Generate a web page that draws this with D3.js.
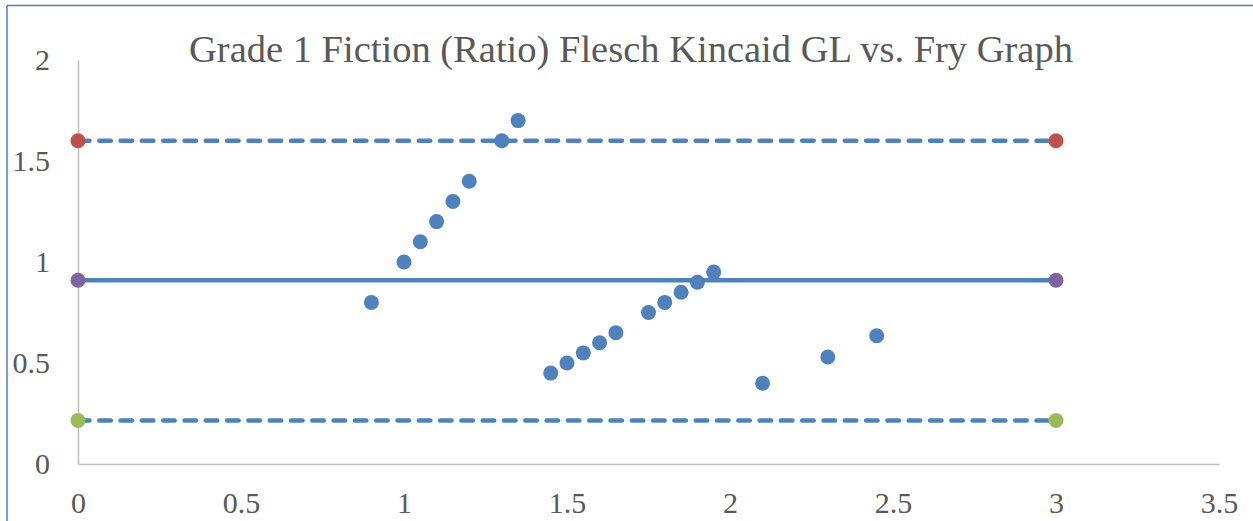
<!DOCTYPE html>
<html>
<head>
<meta charset="utf-8">
<script src="https://cdnjs.cloudflare.com/ajax/libs/d3/7.8.5/d3.min.js"></script>
<style>
  body { margin: 0; background: #fff; }
  .axis path { stroke: #bfbfbf; stroke-width: 1.5; }
  .axis text { font-family: "Liberation Serif", "Times New Roman", serif; font-size: 30px; fill: #595959; }
</style>
</head>
<body>
<svg id="chart"></svg>
<script>
var width = 1253,
    height = 521;

// scatter points (Flesch Kincaid GL vs. Fry Graph ratio)
var pointsX = [0.9, 1.0, 1.05, 1.1, 1.15, 1.2, 1.3, 1.35,
               1.45, 1.5, 1.55, 1.6, 1.65, 1.75, 1.8, 1.85, 1.9, 1.95,
               2.1, 2.3, 2.45];
var pointsY = [0.8, 1.0, 1.1, 1.2, 1.3, 1.4, 1.6, 1.7,
               0.45, 0.5, 0.55, 0.6, 0.65, 0.75, 0.8, 0.85, 0.9, 0.95,
               0.4, 0.53, 0.635];

// reference lines: upper, mean, lower
var refValues = [1.6, 0.91, 0.215];
var refDashed = [true, false, true];
var refColors = ['#c0504d', '#8064a2', '#9bbb59'];
var refStart = 0, refEnd = 3;

var xTicks = [0, 0.5, 1, 1.5, 2, 2.5, 3, 3.5];
var yTicks = [0, 0.5, 1, 1.5, 2];

var margin = {left: 78, right: 34, top: 60, bottom: 57};

var svg = d3.select("#chart")
  .attr("width", width)
  .attr("height", height);

// chart border (only top and left edges visible)
svg.append('line')
  .attr('x1', 7).attr('x2', width).attr('y1', 5.5).attr('y2', 5.5)
  .attr('stroke', '#4f81bd').attr('stroke-width', 1.5);
svg.append('line')
  .attr('x1', 7).attr('x2', 7).attr('y1', 5.5).attr('y2', height)
  .attr('stroke', '#4f81bd').attr('stroke-width', 1.5);

var x = d3.scaleLinear()
  .domain([0, 3.5])
  .range([margin.left, width - margin.right]);

var y = d3.scaleLinear()
  .domain([0, 2])
  .range([height - margin.bottom, margin.top]);

svg.append('text')
  .attr('x', 631)
  .attr('y', 62)
  .attr('text-anchor', 'middle')
  .style('font-family', '"Liberation Serif", "Times New Roman", serif')
  .style('font-size', '38.5px')
  .style('fill', '#595959')
  .text('Grade 1 Fiction (Ratio) Flesch Kincaid GL vs. Fry Graph');

var xAxis = svg.append('g')
  .attr('class', 'axis')
  .attr('transform', 'translate(0,' + y(0) + ')')
  .call(d3.axisBottom(x).tickValues(xTicks).tickSize(0).tickSizeOuter(0).tickPadding(28).tickFormat(d3.format('')));
xAxis.selectAll('text').attr('dy', '0.71em');

var yAxis = svg.append('g')
  .attr('class', 'axis')
  .attr('transform', 'translate(' + x(0) + ',0)')
  .call(d3.axisLeft(y).tickValues(yTicks).tickSize(0).tickSizeOuter(0).tickPadding(28).tickFormat(d3.format('')));

// reference lines
var refs = refValues.map(function(v, i) {
  return {v: v, dashed: refDashed[i], color: refColors[i]};
});

svg.selectAll('.ref-line')
  .data(refs)
  .enter().append('line')
  .attr('class', 'ref-line')
  .attr('x1', x(refStart))
  .attr('x2', x(refEnd))
  .attr('y1', function(d) { return y(d.v); })
  .attr('y2', function(d) { return y(d.v); })
  .attr('stroke', '#4f81bd')
  .attr('stroke-width', 4.5)
  .attr('stroke-linecap', 'round')
  .attr('stroke-dasharray', function(d) { return d.dashed ? '11.5,9.8' : null; });

svg.selectAll('.ref-dot')
  .data(refs.concat(refs))
  .enter().append('circle')
  .attr('class', 'ref-dot')
  .attr('cx', function(d, i) { return x(i < refs.length ? refStart : refEnd); })
  .attr('cy', function(d) { return y(d.v); })
  .attr('r', 7.5)
  .attr('fill', function(d) { return d.color; });

// scatter points
svg.selectAll('.pt')
  .data(pointsX)
  .enter().append('circle')
  .attr('class', 'pt')
  .attr('cx', function(d) { return x(d); })
  .attr('cy', function(d, i) { return y(pointsY[i]); })
  .attr('r', 7.5)
  .attr('fill', '#4f81bd');
</script>
</body>
</html>
